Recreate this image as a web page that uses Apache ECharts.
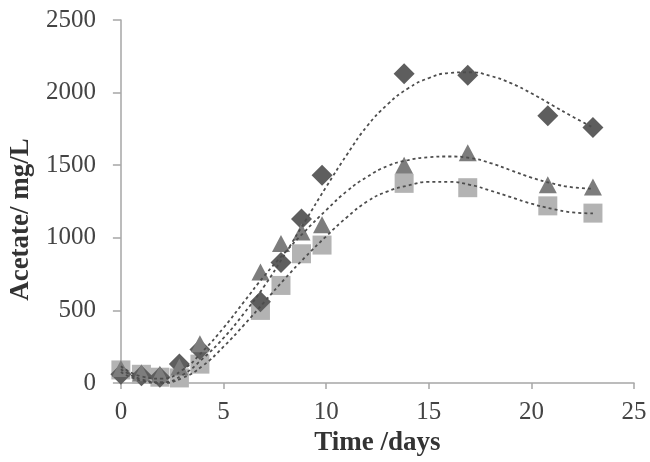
<!DOCTYPE html>
<html>
<head>
<meta charset="utf-8">
<script src="https://cdn.jsdelivr.net/npm/echarts@6/dist/echarts.min.js"></script>
<style>
html, body { margin: 0; padding: 0; background: #fff; }
#main { width: 650px; height: 462px; }
</style>
</head>
<body>
<div id="main"></div>
<script>
// measured days and acetate values (mg/L)
var days = [0, 1, 1.9, 2.85, 3.85, 6.8, 7.8, 8.8, 9.8, 13.8, 16.9, 20.8, 23];
var diamondVals = [60, 50, 40, 130, 230, 560, 830, 1130, 1430, 2130, 2120, 1840, 1760];
var triangleVals = [100, 70, 60, 110, 270, 765, 960, 1040, 1090, 1500, 1585, 1365, 1350];
var squareVals = [90, 60, 40, 35, 130, 500, 672, 890, 950, 1375, 1345, 1220, 1170];

// trend lines
var trendDays = [0, 1, 2, 3, 4, 5, 6, 7, 8, 9, 10, 11, 12, 13, 14, 15, 16, 17, 18, 19, 20, 21, 22, 23];
var diamondTrend = [95, 25, 5, 55, 170, 310, 480, 670, 890, 1120, 1350, 1570, 1770, 1920, 2030, 2100, 2135, 2140, 2115, 2065, 1995, 1915, 1835, 1760];
var triangleTrend = [115, 45, 30, 90, 220, 380, 560, 740, 900, 1050, 1190, 1320, 1420, 1495, 1535, 1555, 1560, 1550, 1515, 1465, 1415, 1375, 1348, 1338];
var squareTrend = [75, 15, 0, 35, 120, 250, 400, 560, 720, 870, 1010, 1140, 1250, 1320, 1360, 1385, 1385, 1365, 1325, 1280, 1235, 1200, 1175, 1168];

var xTicks = [0, 5, 10, 15, 20, 25];
var yTicks = [0, 500, 1000, 1500, 2000, 2500];

function pairs(xs, ys) {
    var res = [];
    for (var i = 0; i < xs.length; i++) {
        res.push([xs[i], ys[i]]);
    }
    return res;
}

var myChart = echarts.init(document.getElementById('main'));

var serif = 'Liberation Serif';
var axisColor = '#a6a6a6';

function trend(vals) {
    return {
        type: 'line',
        data: pairs(trendDays, vals),
        smooth: true,
        symbol: 'none',
        silent: true,
        z: 3,
        lineStyle: { color: '#4d4d4d', width: 1.8, type: [3, 3] }
    };
}

function points(vals, symbol, size, color) {
    return {
        type: 'scatter',
        data: pairs(days, vals),
        symbol: symbol,
        symbolSize: size,
        z: 2,
        itemStyle: { color: color, opacity: 1 }
    };
}

var option = {
    backgroundColor: '#ffffff',
    animation: false,
    grid: { left: 117, right: 16, top: 20, bottom: 79 },
    xAxis: {
        type: 'value',
        min: xTicks[0],
        max: xTicks[xTicks.length - 1],
        interval: 5,
        name: 'Time /days',
        nameLocation: 'middle',
        nameGap: 46,
        nameTextStyle: { fontFamily: serif, fontWeight: 'bold', fontSize: 27, color: '#333' },
        axisLine: { lineStyle: { color: axisColor, width: 1.5 } },
        axisTick: { length: 6, lineStyle: { color: axisColor, width: 1.5 } },
        axisLabel: { fontFamily: serif, fontSize: 25, color: '#444', margin: 17, formatter: '{value}' },
        splitLine: { show: false }
    },
    yAxis: {
        type: 'value',
        min: yTicks[0],
        max: yTicks[yTicks.length - 1],
        interval: 500,
        name: 'Acetate/ mg/L',
        nameLocation: 'middle',
        nameGap: 85,
        nameTextStyle: { fontFamily: serif, fontWeight: 'bold', fontSize: 27, color: '#333', padding: [0, 36, 0, 0] },
        axisLine: { show: true, lineStyle: { color: axisColor, width: 1.5 } },
        axisTick: { show: true, length: 8, lineStyle: { color: axisColor, width: 1.5 } },
        axisLabel: { fontFamily: serif, fontSize: 25, color: '#444', margin: 25, formatter: function (v) { return String(v); } },
        splitLine: { show: false }
    },
    series: [
        points(squareVals, 'rect', 19, '#b3b3b3'),
        points(diamondVals, 'diamond', 21, '#5e5e5e'),
        points(triangleVals, 'triangle', [18, 17], '#7d7d7d'),
        trend(diamondTrend),
        trend(triangleTrend),
        trend(squareTrend)
    ]
};

myChart.setOption(option);
</script>
</body>
</html>
